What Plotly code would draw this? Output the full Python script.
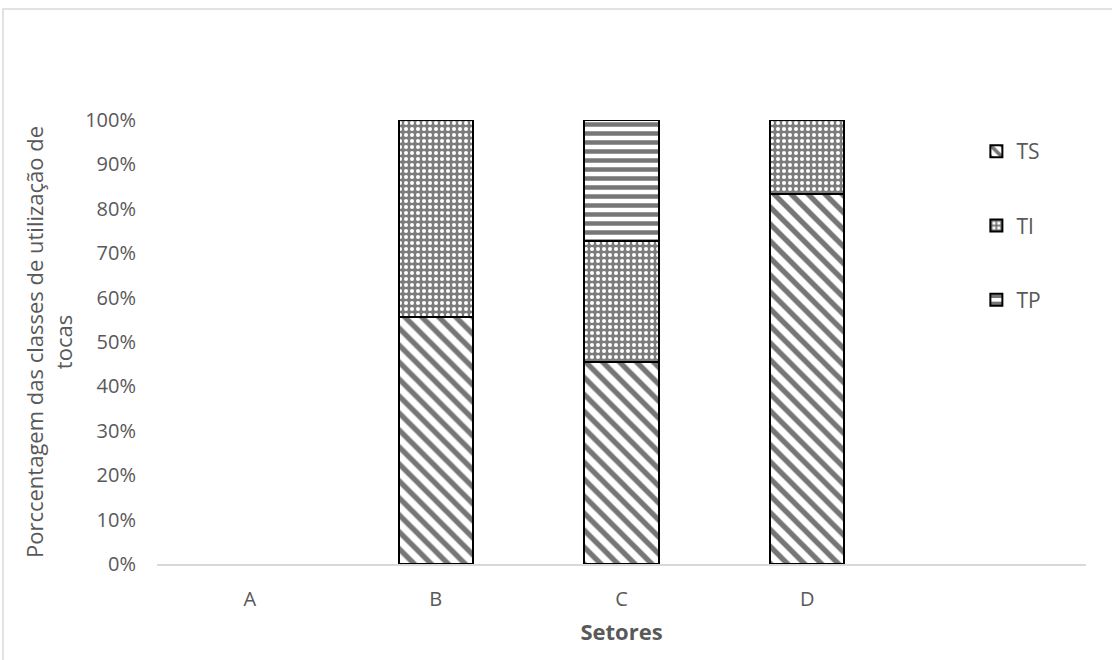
import plotly.graph_objects as go

# Sectors and share of each burrow-use class (fractions of 1)
setores = ["A", "B", "C", "D"]
ts_vals = [None, 0.556, 0.455, 0.833]
ti_vals = [None, 0.444, 0.273, 0.167]
tp_vals = [None, None, 0.272, None]

series = [
    ("TS", ts_vals, dict(shape="\\", size=12, solidity=0.45, fgcolor="#767676", bgcolor="white", fgopacity=1)),
    ("TI", ti_vals, dict(shape=".", size=6, solidity=0.35, fgcolor="white", bgcolor="#7c7c7c", fgopacity=1)),
    ("TP", tp_vals, dict(shape="-", size=9, solidity=0.5, fgcolor="#767676", bgcolor="white", fgopacity=1)),
]

text_color = "#595959"
font_family = "Open Sans, Noto Sans, sans-serif"

fig = go.Figure()
for name, vals, pat in series:
    fig.add_trace(go.Bar(
        x=setores, y=vals, name=name, legendgroup=name,
        marker=dict(color="white", pattern=pat, line=dict(color="black", width=2)),
        width=0.4,
    ))

fig.update_layout(
    width=1112, height=660,
    barmode="stack",
    plot_bgcolor="white", paper_bgcolor="white",
    margin=dict(l=157, r=26, t=120, b=96, autoexpand=False),
    font=dict(family=font_family, color=text_color, size=20),
    showlegend=True,
    legend=dict(
        x=0.882, y=0.975, xanchor="left", yanchor="top",
        traceorder="grouped", tracegroupgap=44,
        font=dict(size=21, color=text_color),
        bgcolor="rgba(0,0,0,0)", itemwidth=30,
    ),
    xaxis=dict(
        range=[-0.5, 4.5], showline=True, linecolor="#d9d9d9", linewidth=1.5,
        showgrid=False, zeroline=False, ticks="", ticklabelstandoff=16,
        tickfont=dict(size=20, color=text_color),
        title=dict(text="<b>Setores</b>", font=dict(size=22, color=text_color), standoff=14),
        automargin=False,
    ),
    yaxis=dict(
        range=[0, 1], tickvals=[i / 10 for i in range(11)], tickformat=".0%",
        showline=False, showgrid=False, zeroline=False, ticks="",
        ticklabelstandoff=20,
        tickfont=dict(size=20, color=text_color),
        title=dict(text="Porccentagem das classes de utilização de<br>tocas",
                   font=dict(size=22, color=text_color), standoff=6),
        automargin=False,
    ),
    shapes=[dict(
        type="rect", xref="paper", yref="paper",
        x0=(3 - 157) / 929, x1=1.3, y0=-0.5, y1=(564 - 9) / 444,
        line=dict(color="#d9d9d9", width=1.5), fillcolor="rgba(0,0,0,0)", layer="below",
    )],
)

fig.write_html("out.html")
